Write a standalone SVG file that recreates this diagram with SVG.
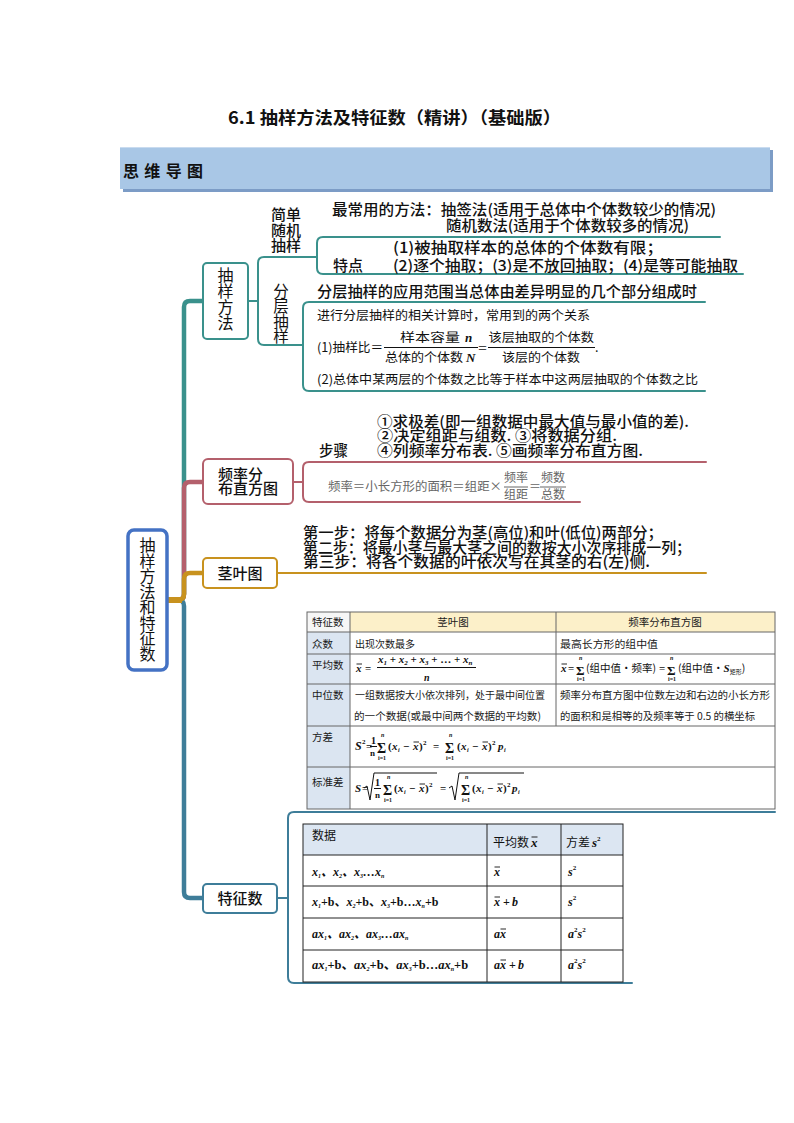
<svg xmlns="http://www.w3.org/2000/svg" width="794" height="1123" viewBox="0 0 794 1123">
<style>
text{font-family:"Noto Sans CJK SC","Noto Sans",sans-serif;fill:#111}
.vt{writing-mode:vertical-rl;text-orientation:upright}
.t15{font-size:15px;font-weight:500}
.t14{font-size:14.5px;font-weight:500}
.s12{font-size:12.5px}
.tb{font-size:10.5px;fill:#1a1a1a}
.m{font-family:"Liberation Serif","DejaVu Serif","Noto Sans CJK SC",serif;font-style:italic;font-weight:bold}
.mr{font-family:"Liberation Serif","DejaVu Serif","Noto Sans CJK SC",serif;font-style:normal;font-weight:bold}
.cj{font-family:"Noto Sans CJK SC",sans-serif;font-style:normal;font-weight:normal}
.gray{fill:#666;font-size:12px}
.trunk{fill:none;stroke-width:4.5;stroke-linecap:round;stroke-linejoin:round}
.br{fill:none;stroke-width:2;stroke-linecap:round;stroke-linejoin:round}
.teal{stroke:#3a918c}
.mauve{stroke:#b4606c}
.gold{stroke:#c8921e}
.blue{stroke:#3e7d99}
.node{fill:#fff;stroke-width:2}
.ln{stroke:#111;stroke-width:1}
.ob{stroke:#111;stroke-width:0.9}
.lg{stroke:#666;stroke-width:1}
.cell1{fill:none;stroke:#666;stroke-width:1}
.cell2{fill:none;stroke:#222;stroke-width:1}
.rad{fill:none;stroke:#111;stroke-width:1}
</style>
<rect width="794" height="1123" fill="#fff"/>

<g id="title">
<text x="228" y="124" font-size="17" font-weight="bold" textLength="333" lengthAdjust="spacingAndGlyphs">6.1 抽样方法及特征数（精讲）（基础版）</text>
</g>

<g id="header">
<rect x="123" y="150" width="650" height="42" fill="#7c9cc6"/>
<rect x="120" y="147" width="650" height="42" fill="#a9c7e6"/>
<line x1="120" y1="147.5" x2="770" y2="147.5" stroke="#c9dbef" stroke-width="1"/>
<text x="123" y="177" font-size="16" font-weight="bold" textLength="80" lengthAdjust="spacing" fill="#111">思维导图</text>
</g>

<g id="connectors">
<path class="trunk teal" d="M167,600 H178 Q184,600 184,594 V307 Q184,301 190,301 H203"/>
<path class="trunk mauve" d="M167,600 H178 Q184,600 184,594 V488 Q184,482 190,482 H203"/>
<path class="trunk blue" d="M167,600 H178 Q184,600 184,606 V892 Q184,898 190,898 H203"/>
<path class="trunk gold" d="M167,600 H178 Q184,600 184,594 V579 Q184,573 190,573 H203"/>
<rect x="167" y="597" width="15" height="6" fill="#c8921e"/>
<path class="br teal" d="M248,301 H258"/>
<path class="br teal" d="M317,257 H264 Q258,257 258,263 V339 Q258,345 264,345 H303"/>
<path class="br teal" d="M720,237 H323 Q317,237 317,243 V268 Q317,274 323,274 H743"/>
<path class="br teal" d="M705,302 H309 Q303,302 303,308 V385 Q303,391 309,391 H705"/>
<path class="br mauve" d="M293,482 H303"/>
<path class="br mauve" d="M706,462 H309 Q303,462 303,468 V496 Q303,502 309,502 H580"/>
<path class="br gold" d="M277,573 H706"/>
<path class="br blue" d="M277,898 H288"/>
<path class="br blue" d="M775,812 H294 Q288,812 288,818 V977 Q288,983 294,983 H632"/>
</g>

<g id="node-center">
<rect x="128" y="530" width="39" height="140" rx="6" fill="#fff" stroke="#4472c4" stroke-width="3.5"/>
<text class="vt" x="147.5" y="537" font-size="16" letter-spacing="-0.5">抽样方法和特征数</text>
</g>

<g id="node-sampling">
<rect class="node teal" x="203" y="263" width="45" height="76" rx="4" stroke="#4d9a95"/>
<text class="vt" x="225.5" y="267" font-size="16">抽样方法</text>
</g>

<g id="node-simple">
<text class="t15" text-anchor="middle"><tspan x="286" y="220">简单</tspan><tspan x="286" y="235.5">随机</tspan><tspan x="286" y="251">抽样</tspan></text>
<text class="t15"><tspan x="332" y="215" textLength="384" lengthAdjust="spacingAndGlyphs">最常用的方法：抽签法(适用于总体中个体数较少的情况)</tspan><tspan x="446" y="231" textLength="243" lengthAdjust="spacingAndGlyphs">随机数法(适用于个体数较多的情况)</tspan></text>
<text class="t15" x="333" y="271">特点</text>
<text class="t15"><tspan x="393" y="252.5" textLength="270" lengthAdjust="spacingAndGlyphs">(1)被抽取样本的总体的个体数有限；</tspan><tspan x="393" y="271" textLength="345" lengthAdjust="spacingAndGlyphs">(2)逐个抽取；(3)是不放回抽取；(4)是等可能抽取</tspan></text>
</g>

<g id="node-stratified">
<text class="vt" x="281" y="283" font-size="15.5" letter-spacing="-0.3">分层抽样</text>
<text class="t15" x="317" y="297" textLength="380" lengthAdjust="spacingAndGlyphs">分层抽样的应用范围当总体由差异明显的几个部分组成时</text>
<text class="s12" x="317" y="320" textLength="273" lengthAdjust="spacingAndGlyphs">进行分层抽样的相关计算时，常用到的两个关系</text>
<text class="s12" x="317" y="352" textLength="66" lengthAdjust="spacingAndGlyphs">(1)抽样比＝</text>
<text class="s12"><tspan x="400" y="342" textLength="60" lengthAdjust="spacingAndGlyphs">样本容量</tspan><tspan class="m" x="465" y="342" font-size="13">n</tspan><tspan x="385" y="362" textLength="78" lengthAdjust="spacingAndGlyphs">总体的个体数</tspan><tspan class="m" x="466" y="362" font-size="13">N</tspan></text>
<line class="ln" x1="384" y1="347.5" x2="478" y2="347.5"/>
<text x="477.5" y="352" font-size="10">＝</text>
<text class="s12"><tspan x="488.5" y="342" textLength="105.5" lengthAdjust="spacingAndGlyphs">该层抽取的个体数</tspan><tspan x="502" y="362" textLength="78" lengthAdjust="spacingAndGlyphs">该层的个体数</tspan></text>
<line class="ln" x1="488" y1="347.5" x2="595" y2="347.5"/>
<text class="s12" x="595" y="352">.</text>
<text class="s12" x="317" y="384" textLength="381" lengthAdjust="spacingAndGlyphs">(2)总体中某两层的个体数之比等于样本中这两层抽取的个体数之比</text>
</g>

<g id="node-histogram">
<rect class="node mauve" x="203" y="459" width="90" height="45" rx="5" stroke="#b06a74"/>
<text class="t15"><tspan x="218" y="480">频率分</tspan><tspan x="218" y="494">布直方图</tspan></text>
<text class="t14"><tspan x="377" y="427" textLength="312" lengthAdjust="spacingAndGlyphs">①求极差(即一组数据中最大值与最小值的差).</tspan><tspan x="377" y="441" textLength="240" lengthAdjust="spacingAndGlyphs">②决定组距与组数. ③将数据分组.</tspan><tspan x="377" y="456" textLength="266" lengthAdjust="spacingAndGlyphs">④列频率分布表. ⑤画频率分布直方图.</tspan></text>
<text class="t14" x="319" y="456">步骤</text>
<text class="gray" x="328" y="491" textLength="174" lengthAdjust="spacingAndGlyphs">频率＝小长方形的面积＝组距×</text>
<text class="gray" font-size="11.5" text-anchor="middle"><tspan x="516" y="482">频率</tspan><tspan x="516" y="499">组距</tspan></text>
<line class="lg" x1="504" y1="487" x2="528" y2="487"/>
<text class="gray" x="529" y="491" font-size="11">＝</text>
<text class="gray" font-size="11.5" text-anchor="middle"><tspan x="553" y="482">频数</tspan><tspan x="553" y="499">总数</tspan></text>
<line class="lg" x1="540" y1="487" x2="566" y2="487"/>
</g>

<g id="node-stemleaf">
<rect class="node gold" x="203" y="558" width="74" height="30" rx="4" stroke="#c89a3a"/>
<text class="t15" x="240" y="578.5" text-anchor="middle">茎叶图</text>
<text class="t15"><tspan x="303" y="538" textLength="360" lengthAdjust="spacingAndGlyphs">第一步：将每个数据分为茎(高位)和叶(低位)两部分；</tspan><tspan x="303" y="552.5" textLength="388" lengthAdjust="spacingAndGlyphs">第二步：将最小茎与最大茎之间的数按大小次序排成一列；</tspan><tspan x="303" y="567" textLength="347" lengthAdjust="spacingAndGlyphs">第三步：将各个数据的叶依次写在其茎的右(左)侧.</tspan></text>
</g>

<g id="node-features">
<rect class="node blue" x="203" y="884" width="74" height="29" rx="4" stroke="#4a809c"/>
<text class="t15" x="240" y="904" text-anchor="middle">特征数</text>
</g>

<g id="table1">
<rect x="307" y="612" width="43" height="20" fill="#f6f6f6"/>
<rect x="350" y="612" width="425" height="20" fill="#fcf0c9"/>
<rect x="307" y="632" width="43" height="177" fill="#dbe5f1"/>
<rect class="cell1" x="307" y="612" width="468" height="197"/>
<line class="lg" x1="307" y1="632" x2="775" y2="632"/>
<line class="lg" x1="307" y1="654" x2="775" y2="654"/>
<line class="lg" x1="307" y1="684" x2="775" y2="684"/>
<line class="lg" x1="307" y1="726" x2="775" y2="726"/>
<line class="lg" x1="307" y1="767" x2="775" y2="767"/>
<line class="lg" x1="350" y1="612" x2="350" y2="809"/>
<line class="lg" x1="556" y1="612" x2="556" y2="726"/>
<text class="tb" x="312" y="626">特征数</text>
<text class="tb" x="453" y="626" text-anchor="middle">茎叶图</text>
<text class="tb" x="665" y="626" text-anchor="middle">频率分布直方图</text>
<text class="tb" x="312" y="648">众数</text>
<text class="tb" x="355" y="648" textLength="60" lengthAdjust="spacingAndGlyphs">出现次数最多</text>
<text class="tb" x="560" y="648" textLength="98" lengthAdjust="spacingAndGlyphs">最高长方形的组中值</text>
<text class="tb" x="312" y="669">平均数</text>
<text class="m" font-size="11"><tspan x="356" y="672">x</tspan><tspan class="mr" x="365" y="672">=</tspan><tspan x="378" y="663">x</tspan><tspan font-size="7" dy="2">1</tspan><tspan class="mr" dy="-2"> + </tspan>x<tspan font-size="7" dy="2">2</tspan><tspan class="mr" dy="-2"> + </tspan>x<tspan font-size="7" dy="2">3</tspan><tspan class="mr" dy="-2"> + … + </tspan>x<tspan font-size="7" dy="2">n</tspan><tspan font-size="10" x="424" y="681">n</tspan></text>
<line class="ob" x1="356.5" y1="664" x2="362" y2="664"/>
<line class="ln" x1="377" y1="667.5" x2="476" y2="667.5"/>
<text class="mr" font-size="11"><tspan class="m" x="561" y="672">x</tspan><tspan x="568" y="672">=</tspan><tspan x="576" y="675" font-size="13">Σ</tspan><tspan class="m" x="579" y="660" font-size="6">n</tspan><tspan x="577" y="681" font-size="6">i=1</tspan><tspan class="cj" x="586" y="672" font-size="10.5" textLength="70" lengthAdjust="spacingAndGlyphs">(组中值•频率)</tspan><tspan x="659" y="672">=</tspan><tspan x="667" y="675" font-size="13">Σ</tspan><tspan class="m" x="670" y="660" font-size="6">n</tspan><tspan x="668" y="681" font-size="6">i=1</tspan><tspan class="cj" x="678" y="672" font-size="10.5">(组中值•</tspan><tspan class="m">S</tspan><tspan class="cj" font-size="6" dy="2">矩形</tspan><tspan class="cj" font-size="10.5" dy="-2">)</tspan></text>
<line class="ob" x1="561.5" y1="664" x2="567" y2="664"/>
<text class="tb" x="312" y="699">中位数</text>
<text class="tb"><tspan x="355" y="699" textLength="190" lengthAdjust="spacingAndGlyphs">一组数据按大小依次排列，处于最中间位置</tspan><tspan x="354" y="720" textLength="187" lengthAdjust="spacingAndGlyphs">的一个数据(或最中间两个数据的平均数)</tspan></text>
<text class="tb"><tspan x="560" y="699" textLength="210" lengthAdjust="spacingAndGlyphs">频率分布直方图中位数左边和右边的小长方形</tspan><tspan x="560" y="720" textLength="195" lengthAdjust="spacingAndGlyphs">的面积和是相等的及频率等于 0.5 的横坐标</tspan></text>
<text class="tb" x="312" y="741">方差</text>
<text class="mr" font-size="11"><tspan class="m" x="355" y="750" font-size="12">S</tspan><tspan x="362" y="744" font-size="7">2</tspan><tspan x="366" y="750">=</tspan><tspan x="371" y="744" font-size="10">1</tspan><tspan x="370" y="756" font-size="9">n</tspan><tspan x="377" y="753" font-size="14">Σ</tspan><tspan class="m" x="381" y="737" font-size="6">n</tspan><tspan x="378" y="760" font-size="6">i=1</tspan><tspan x="388" y="750">(</tspan><tspan class="m" x="392" y="750">x</tspan><tspan class="m" x="398" y="752" font-size="6">i</tspan><tspan x="403" y="750">−</tspan><tspan class="m" x="413" y="750">x</tspan><tspan x="419" y="750">)</tspan><tspan x="423" y="745" font-size="7">2</tspan><tspan x="433" y="750">=</tspan><tspan x="445" y="753" font-size="14">Σ</tspan><tspan class="m" x="449" y="737" font-size="6">n</tspan><tspan x="446" y="760" font-size="6">i=1</tspan><tspan x="457" y="750">(</tspan><tspan class="m" x="461" y="750">x</tspan><tspan class="m" x="467" y="752" font-size="6">i</tspan><tspan x="472" y="750">−</tspan><tspan class="m" x="482" y="750">x</tspan><tspan x="488" y="750">)</tspan><tspan x="492" y="745" font-size="7">2</tspan><tspan class="m" x="498" y="750">p</tspan><tspan class="m" x="504" y="752" font-size="6">i</tspan></text>
<line class="ln" x1="370" y1="746.5" x2="377" y2="746.5"/>
<line class="ob" x1="413.5" y1="742" x2="419" y2="742"/>
<line class="ob" x1="482.5" y1="742" x2="488" y2="742"/>
<text class="tb" x="312" y="786">标准差</text>
<text class="mr" font-size="11"><tspan class="m" x="355" y="792">S</tspan><tspan x="362" y="792">=</tspan><tspan x="375" y="786" font-size="10">1</tspan><tspan x="375" y="798" font-size="9">n</tspan><tspan x="383" y="795" font-size="14">Σ</tspan><tspan class="m" x="387" y="779" font-size="6">n</tspan><tspan x="384" y="802" font-size="6">i=1</tspan><tspan x="394" y="792">(</tspan><tspan class="m" x="398" y="792">x</tspan><tspan class="m" x="404" y="794" font-size="6">i</tspan><tspan x="409" y="792">−</tspan><tspan class="m" x="419" y="792">x</tspan><tspan x="425" y="792">)</tspan><tspan x="429" y="787" font-size="7">2</tspan><tspan x="440" y="792">=</tspan><tspan x="461" y="795" font-size="14">Σ</tspan><tspan class="m" x="465" y="779" font-size="6">n</tspan><tspan x="462" y="802" font-size="6">i=1</tspan><tspan x="472" y="792">(</tspan><tspan class="m" x="476" y="792">x</tspan><tspan class="m" x="482" y="794" font-size="6">i</tspan><tspan x="487" y="792">−</tspan><tspan class="m" x="497" y="792">x</tspan><tspan x="503" y="792">)</tspan><tspan x="507" y="787" font-size="7">2</tspan><tspan class="m" x="512" y="792">p</tspan><tspan class="m" x="518" y="794" font-size="6">i</tspan></text>
<polyline class="rad" points="364,788 367,786 370,800 374,773 437,773"/>
<line class="ln" x1="374" y1="788.5" x2="381" y2="788.5"/>
<line class="ob" x1="419.5" y1="784" x2="425" y2="784"/>
<polyline class="rad" points="449,788 452,786 455,800 459,773 524,773"/>
<line class="ob" x1="497.5" y1="784" x2="503" y2="784"/>
</g>

<g id="table2">
<rect x="303" y="824" width="320" height="31" fill="#dce6f2"/>
<rect class="cell2" x="303" y="824" width="320" height="158"/>
<line class="cell2" x1="303" y1="855" x2="623" y2="855"/>
<line class="cell2" x1="303" y1="886" x2="623" y2="886"/>
<line class="cell2" x1="303" y1="918" x2="623" y2="918"/>
<line class="cell2" x1="303" y1="950" x2="623" y2="950"/>
<line class="cell2" x1="487" y1="824" x2="487" y2="982"/>
<line class="cell2" x1="561" y1="824" x2="561" y2="982"/>
<text x="312" y="840" font-size="12">数据</text>
<text x="493" y="847" font-size="12">平均数<tspan class="m" x="531" font-size="13">x</tspan></text>
<line class="ob" x1="531.5" y1="837" x2="537.5" y2="837"/>
<text x="566" y="847" font-size="12">方差<tspan class="m" x="592" font-size="13">s</tspan><tspan class="mr" font-size="7" dy="-6">2</tspan></text>
<text class="m" x="312" y="876" font-size="12">x<tspan font-size="6" dy="2">1</tspan><tspan dy="-2">、x</tspan><tspan font-size="6" dy="2">2</tspan><tspan dy="-2">、x</tspan><tspan font-size="6" dy="2">3</tspan><tspan dy="-2">…x</tspan><tspan font-size="6" dy="2">n</tspan></text>
<text class="m" x="312" y="906" font-size="12">x<tspan font-size="6" dy="2">1</tspan><tspan class="mr" dy="-2">+b、</tspan>x<tspan font-size="6" dy="2">2</tspan><tspan class="mr" dy="-2">+b、</tspan>x<tspan font-size="6" dy="2">3</tspan><tspan class="mr" dy="-2">+b…</tspan>x<tspan font-size="6" dy="2">n</tspan><tspan class="mr" dy="-2">+b</tspan></text>
<text class="m" x="312" y="938" font-size="12">ax<tspan font-size="6" dy="2">1</tspan><tspan dy="-2">、ax</tspan><tspan font-size="6" dy="2">2</tspan><tspan dy="-2">、ax</tspan><tspan font-size="6" dy="2">3</tspan><tspan dy="-2">…ax</tspan><tspan font-size="6" dy="2">n</tspan></text>
<text class="m" x="312" y="969" font-size="12.5">ax<tspan font-size="6" dy="2">1</tspan><tspan class="mr" font-weight="normal" dy="-2">+b、</tspan>ax<tspan font-size="6" dy="2">2</tspan><tspan class="mr" font-weight="normal" dy="-2">+b、</tspan>ax<tspan font-size="6" dy="2">3</tspan><tspan class="mr" font-weight="normal" dy="-2">+b…</tspan>ax<tspan font-size="6" dy="2">n</tspan><tspan class="mr" font-weight="normal" dy="-2">+b</tspan></text>
<text class="m" font-size="12"><tspan x="494" y="876">x</tspan><tspan x="494" y="906">x</tspan><tspan class="mr" x="503" y="906">+</tspan><tspan x="512" y="906">b</tspan><tspan x="494" y="938">a</tspan><tspan x="500" y="938">x</tspan><tspan x="494" y="969">a</tspan><tspan x="500" y="969">x</tspan><tspan class="mr" x="509" y="969">+</tspan><tspan x="518" y="969">b</tspan></text>
<line class="ob" x1="494.5" y1="867" x2="500" y2="867"/>
<line class="ob" x1="494.5" y1="897" x2="500" y2="897"/>
<line class="ob" x1="500.5" y1="929" x2="506" y2="929"/>
<line class="ob" x1="500.5" y1="960" x2="506" y2="960"/>
<text class="m" font-size="12"><tspan x="568" y="876">s</tspan><tspan class="mr" font-size="7" dy="-6">2</tspan><tspan x="568" y="906">s</tspan><tspan class="mr" font-size="7" dy="-6">2</tspan><tspan x="568" y="938">a</tspan><tspan class="mr" font-size="7" dy="-6">2</tspan><tspan dy="6">s</tspan><tspan class="mr" font-size="7" dy="-6">2</tspan><tspan x="568" y="969">a</tspan><tspan class="mr" font-size="7" dy="-6">2</tspan><tspan dy="6">s</tspan><tspan class="mr" font-size="7" dy="-6">2</tspan></text>
</g>
</svg>
